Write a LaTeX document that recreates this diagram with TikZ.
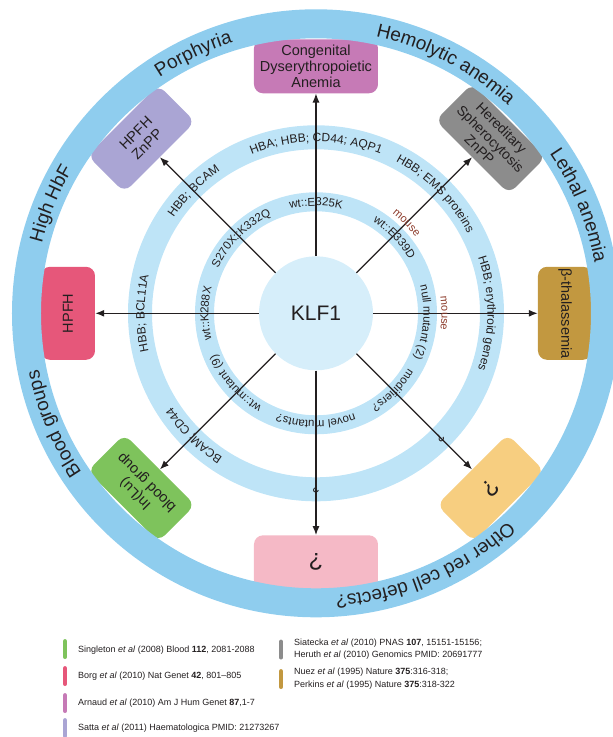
\documentclass[tikz,border=0pt]{standalone}
\usepackage{fontspec}
\setmainfont{Liberation Sans}
\usetikzlibrary{decorations.text,arrows.meta}

\definecolor{outerring}{HTML}{8FCDEE}
\definecolor{ringlight}{HTML}{BEE4F7}
\definecolor{klfc}{HTML}{D6EEFA}
\definecolor{txt}{HTML}{231F20}
\definecolor{mousec}{HTML}{8C3B2B}
\definecolor{cda}{HTML}{C67AB6}
\definecolor{hsgray}{HTML}{8C8C8C}
\definecolor{bthal}{HTML}{C29840}
\definecolor{hpfhc}{HTML}{E6577A}
\definecolor{hpfhz}{HTML}{AAA5D4}
\definecolor{bgreen}{HTML}{7EC35C}
\definecolor{pinkq}{HTML}{F5B9C6}
\definecolor{orangeq}{HTML}{F7CE80}

% angle, baseline radius, half span, font size, text, colour
\newcommand{\ringtext}[6]{%
  \path[decorate,decoration={text along path,text align=center,
    text={|\color{#6}\fontsize{#4}{#4}\selectfont|#5}}]
    ({#1+#3}:#2) arc[start angle={#1+#3}, end angle={#1-#3}, radius=#2];}

\begin{document}
\begin{tikzpicture}[x=1pt,y=1pt,
  box/.style={rounded corners=9pt, minimum height=54pt, inner sep=0pt,
    align=center, font=\fontsize{14.5}{16}\selectfont, text=txt},
  dbox/.style={box, minimum height=52pt, minimum width=100pt},
  qbox/.style={box, font=\fontsize{24}{24}\selectfont},
  arr/.style={draw=txt, line width=1.2pt, -{Latex[length=9pt,width=7pt]}},
  legbar/.style={line width=4.5pt, line cap=round},
  legtxt/.style={anchor=west, inner sep=0pt, font=\fontsize{9}{12.5}\selectfont,
    text=txt, align=left}]
\useasboundingbox (-316,-423.7) rectangle (297,313.3);
\clip (-316,-423.7) rectangle (297,313.3);

% inner rings
\draw[line width=24pt, ringlight] (0,0) circle[radius=176];
\draw[line width=19pt, ringlight] (0,0) circle[radius=111.5];

% disease boxes
\node[box, fill=cda, minimum width=124pt, rotate=0] (b90) at (90:247) {Congenital\\Dyserythropoietic\\Anemia};
\node[dbox, fill=hsgray, minimum width=104pt, rotate=-45, font=\fontsize{14}{15.5}\selectfont] (b45) at (45:247) {Hereditary\\Spherocytosis\\ZnPP};
\node[box, fill=bthal, minimum width=93pt, rotate=-90] (b0) at (0:249) {β-thalassemia};
\node[dbox, fill=hpfhz, rotate=45] (b135) at (135:247) {HPFH\\ZnPP};
\node[box, fill=hpfhc, minimum width=93pt, rotate=90] (b180) at (180:248) {HPFH};
\node[dbox, fill=bgreen, rotate=135] (b225) at (225:247) {In(Lu)\\blood group};
\node[qbox, fill=pinkq, minimum width=124pt, rotate=180] (b270) at (270:249) {?};
\node[dbox, fill=orangeq, rotate=-135, font=\fontsize{24}{24}\selectfont] (b315) at (315:247) {?};

% outer ring
\draw[line width=29pt, outerring] (0,0) circle[radius=289.5];

% centre
\node[circle, fill=klfc, minimum size=114pt, inner sep=0pt, text=txt,
  font=\fontsize{21}{21}\selectfont] (klf) at (0,0) {KLF1};

% connectors
\foreach \b in {b0,b45,b90,b135,b180,b225,b270,b315}
  \draw[arr] (klf) -- (\b);

% outer ring labels
\ringtext{115.3}{283}{40}{19}{Porphyria}{txt}
\ringtext{62.5}{283}{45}{19}{Hemolytic anemia}{txt}
\ringtext{22.3}{283}{40}{19}{Lethal anemia}{txt}
\ringtext{157.5}{283}{40}{19}{High HbF}{txt}
\ringtext{202.8}{283}{40}{19}{Blood groups}{txt}
\ringtext{293.4}{283}{50}{19}{Other red cell defects?}{txt}

% middle ring labels
\ringtext{90}{171.5}{45}{12}{HBA; HBB; CD44; AQP1}{txt}
\ringtext{45}{171.5}{40}{12}{HBB; EMS proteins}{txt}
\ringtext{0}{171.5}{40}{12}{HBB; erythroid genes}{txt}
\ringtext{135}{171.5}{40}{12}{HBB; BCAM}{txt}
\ringtext{180}{171.5}{40}{12}{HBB; BCL11A}{txt}
\ringtext{225}{171.5}{40}{12}{BCAM; CD44}{txt}
\ringtext{270}{171.5}{20}{12}{?}{txt}
\ringtext{315}{171.5}{20}{12}{?}{txt}

% inner ring labels
\ringtext{90}{107.5}{45}{11.5}{wt::E325K}{txt}
\ringtext{135}{107.5}{45}{11.5}{S270X::K332Q}{txt}
\ringtext{44}{107.5}{40}{11.5}{wt::E339D}{txt}
\ringtext{-4.8}{107.5}{45}{11.5}{null mutant (2)}{txt}
\ringtext{315}{107.5}{40}{11.5}{modifiers?}{txt}
\ringtext{270}{107.5}{45}{11.5}{novel mutants?}{txt}
\ringtext{221}{107.5}{45}{11.5}{wt::mutant (9)}{txt}
\ringtext{180}{107.5}{45}{11.5}{wt::K288X}{txt}
\ringtext{45}{125.5}{30}{11}{mouse}{mousec}
\ringtext{0}{125.5}{30}{11}{mouse}{mousec}

% legend
\draw[legbar, bgreen] (-251,-328) -- (-251,-343.5);
\node[legtxt] (l1) at (-238,-336.7) {Singleton \textit{et al} (2008) Blood \textbf{112}, 2081-2088};
\draw[legbar, hpfhc] (-251,-355) -- (-251,-370.5);
\node[legtxt] (l2) at (-238,-362.7) {Borg \textit{et al} (2010) Nat Genet \textbf{42}, 801–805};
\draw[legbar, cda] (-251,-382) -- (-251,-397.5);
\node[legtxt] (l3) at (-238,-389.7) {Arnaud \textit{et al} (2010) Am J Hum Genet \textbf{87},1-7};
\draw[legbar, hpfhz] (-251,-407) -- (-251,-422.5);
\node[legtxt] (l4) at (-238,-414.7) {Satta \textit{et al} (2011) Haematologica PMID: 21273267};
\draw[legbar, hsgray] (-35,-328.5) -- (-35,-344);
\node[legtxt] (l5) at (-22,-335.7) {Siatecka \textit{et al} (2010) PNAS \textbf{107}, 15151-15156;\\Heruth \textit{et al} (2010) Genomics PMID: 20691777};
\draw[legbar, bthal] (-35,-358) -- (-35,-373.5);
\node[legtxt] (l6) at (-22,-365.2) {Nuez \textit{et al} (1995) Nature \textbf{375}:316-318;\\Perkins \textit{et al} (1995) Nature \textbf{375}:318-322};
\end{tikzpicture}
\end{document}
